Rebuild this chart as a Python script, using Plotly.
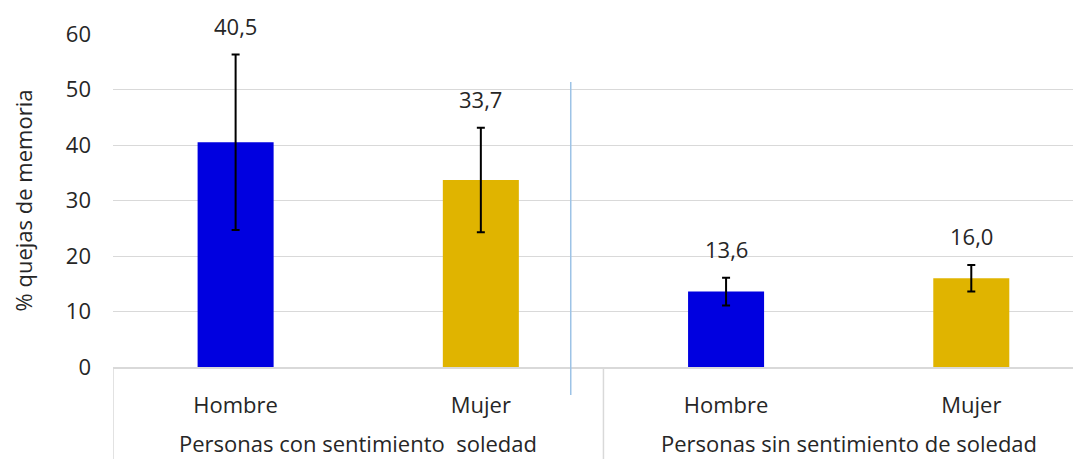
import plotly.graph_objects as go

# data
groups = ["Personas con sentimiento\u00a0 soledad", "Personas sin sentimiento de soledad"]
group_of_bar = [0, 0, 1, 1]
sexes = ["Hombre", "Mujer", "Hombre", "Mujer"]
values = [40.5, 33.7, 13.6, 16.0]
errors = [15.8, 9.4, 2.5, 2.4]
bar_colors = ["rgb(0,0,224)", "rgb(224,180,0)", "rgb(0,0,224)", "rgb(224,180,0)"]

FONT = "Open Sans, Noto Sans, sans-serif"
FS = 22
GRID = "#d9d9d9"
TXT = "#262626"

# unique category keys, shown with the plain sex label
keys = [f"{groups[g]}|{s}" for g, s in zip(group_of_bar, sexes)]

fig = go.Figure()
fig.add_trace(go.Bar(
    x=keys,
    y=values,
    width=0.31,
    marker=dict(color=bar_colors, line=dict(width=0)),
    error_y=dict(type="data", array=errors, visible=True,
                 color="black", thickness=2, width=4),
    showlegend=False,
    hoverinfo="y",
))

# value labels above the error bars
for k, v, e in zip(keys, values, errors):
    fig.add_annotation(
        x=k, y=v + e, xref="x", yref="y",
        text=f"{v:.1f}".replace(".", ","),
        showarrow=False, yanchor="bottom", yshift=12,
        font=dict(family=FONT, size=FS, color=TXT),
    )

# group labels under the sex labels
for gi, name in enumerate(groups):
    fig.add_annotation(
        x=2 * gi + 0.5, y=-0.228, xref="x", yref="paper",
        text=name, showarrow=False, yanchor="middle",
        font=dict(family=FONT, size=FS, color=TXT),
    )

# group dividers in the axis area
for xd in [-0.5, 1.5]:
    fig.add_shape(type="line", xref="x", yref="paper",
                  x0=xd, x1=xd, y0=0, y1=-0.4,
                  line=dict(color=GRID, width=1.5))

# thin separator between the two groups
fig.add_shape(type="line", xref="paper", yref="paper",
              x0=0.469, x1=0.469, y0=-0.084, y1=0.856,
              line=dict(color="rgb(157,195,230)", width=1.5))

fig.update_layout(
    width=1081, height=459,
    margin=dict(l=105, r=0, t=26, b=100),
    plot_bgcolor="white", paper_bgcolor="white",
    font=dict(family=FONT, size=FS, color=TXT),
)
fig.update_xaxes(
    type="category",
    tickvals=keys, ticktext=sexes,
    range=[-0.5, 3.48],
    automargin=False,
    showline=True, linecolor=GRID, linewidth=1.5,
    showgrid=False, ticks="",
    ticklabelstandoff=18,
    tickfont=dict(size=FS, color=TXT),
)
fig.update_yaxes(
    range=[0, 60], dtick=10,
    automargin=False,
    showgrid=True, gridcolor=GRID, gridwidth=1,
    zeroline=False,
    ticklabelstandoff=21,
    tickfont=dict(size=FS, color=TXT),
    title=dict(text="% quejas de memoria", font=dict(size=FS, color=TXT), standoff=34),
)

fig.write_html("out.html")
